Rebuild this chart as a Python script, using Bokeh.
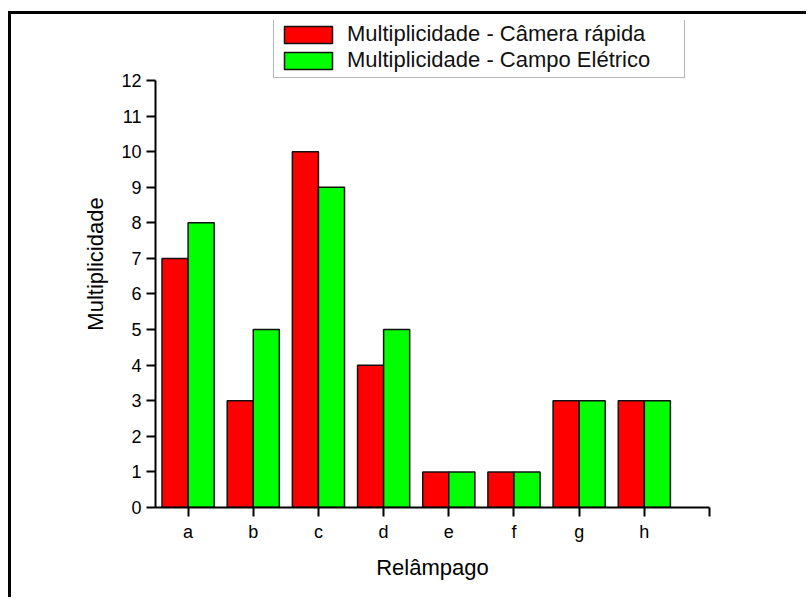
from bokeh.plotting import figure
from bokeh.models import FixedTicker, Legend, LegendItem, ColumnDataSource
from bokeh.transform import dodge
from bokeh.embed import file_html
from bokeh.resources import INLINE

# ---- data ----
categories = ["a", "b", "c", "d", "e", "f", "g", "h"]
camera_rapida = [7, 3, 10, 4, 1, 1, 3, 3]
campo_eletrico = [8, 5, 9, 5, 1, 1, 3, 3]
y_ticks = list(range(0, 13))
series_labels = ["Multiplicidade - Câmera rápida", "Multiplicidade - Campo Elétrico"]

xpos = list(range(1, len(categories) + 1))
src = ColumnDataSource(dict(x=xpos, cat=categories, cam=camera_rapida, campo=campo_eletrico))

FONT = "Liberation Sans"

p = figure(width=798, height=586, x_range=(0.5, len(categories) + 1.0), y_range=(0, 13.686),
           output_backend="svg", toolbar_location=None,
           min_border_left=144, min_border_right=100, min_border_top=6, min_border_bottom=93)
p.styles = {"margin-left": "8px", "margin-top": "11px",
            "border-left-width": "3px", "border-left-style": "solid", "border-left-color": "black",
            "border-top-width": "3px", "border-top-style": "solid", "border-top-color": "black"}

r1 = p.vbar(x=dodge("x", -0.2), top="cam", width=0.4, source=src,
            fill_color="#FF0000", line_color="#111111", line_width=1.5)
r2 = p.vbar(x=dodge("x", 0.2), top="campo", width=0.4, source=src,
            fill_color="#00FF00", line_color="#111111", line_width=1.5)

p.xgrid.visible = False
p.ygrid.visible = False
p.outline_line_color = None
p.background_fill_color = "white"
p.border_fill_color = "white"

xt = xpos + [len(categories) + 1]
p.xaxis.ticker = FixedTicker(ticks=xt)
ov = {i: c for i, c in zip(xpos, categories)}
ov[len(categories) + 1] = ""
p.xaxis.major_label_overrides = ov
p.yaxis.ticker = FixedTicker(ticks=y_ticks)
p.yaxis.bounds = (y_ticks[0], y_ticks[-1])

for ax in (p.xaxis[0], p.yaxis[0]):
    ax.axis_line_width = 2
    ax.axis_line_color = "black"
    ax.major_tick_line_width = 2
    ax.major_tick_line_color = "black"
    ax.major_tick_out = 9
    ax.major_tick_in = 0
    ax.minor_tick_line_color = None
    ax.major_label_text_font = FONT
    ax.major_label_text_font_size = "18px"
    ax.major_label_text_color = "black"
    ax.major_label_standoff = 5
    ax.axis_label_text_font = FONT
    ax.axis_label_text_font_size = "22px"
    ax.axis_label_text_font_style = "normal"
    ax.axis_label_text_color = "black"
    ax.axis_label_standoff = 10

p.xaxis.axis_label = "Relâmpago"
p.yaxis.axis_label = "Multiplicidade"

legend = Legend(items=[LegendItem(label=series_labels[0], renderers=[r1]),
                       LegendItem(label=series_labels[1], renderers=[r2])],
                location=(118, 429))
legend.padding = 4
legend.spacing = 0
legend.margin = 0
legend.glyph_width = 60
legend.glyph_height = 21
legend.label_height = 25
legend.label_width = 333
legend.label_standoff = 9
legend.label_text_font = FONT
legend.label_text_font_size = "22px"
legend.label_text_color = "#111111"
legend.border_line_color = "#707070"
legend.border_line_width = 1.5
legend.background_fill_color = "white"
legend.background_fill_alpha = 1.0
p.add_layout(legend)

open("out.html", "w").write(file_html(p, INLINE))
